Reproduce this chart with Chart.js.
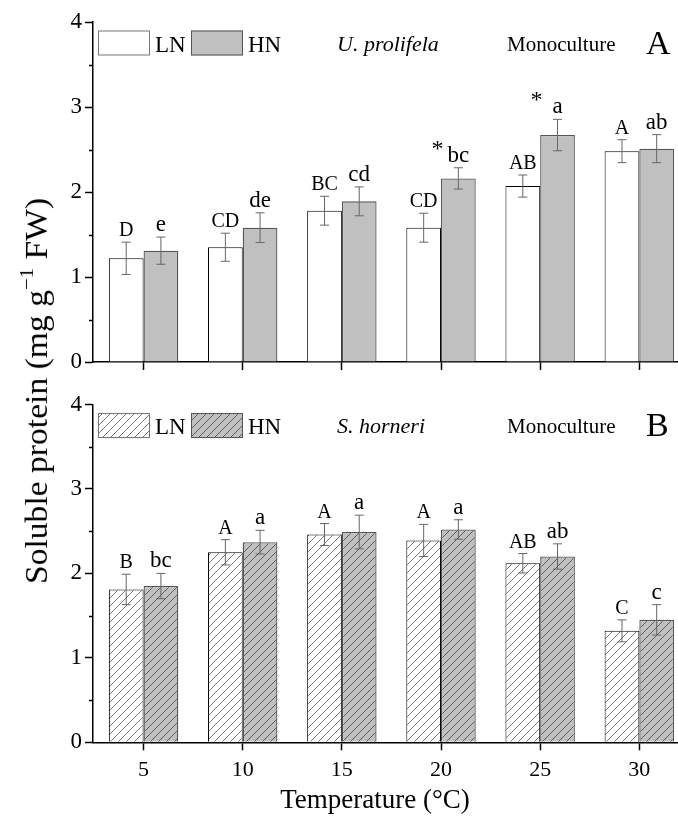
<!DOCTYPE html>
<html>
<head>
<meta charset="utf-8">
<script src="https://cdn.jsdelivr.net/npm/chart.js@4.4.1/dist/chart.umd.min.js"></script>
<style>
  body { margin: 0; background: #fff; }
  #wrap { position: relative; width: 678px; height: 818px; overflow: hidden; }
  canvas { position: absolute; left: 0; }
  #chartA { top: 0; }
  #chartB { top: 380px; }
  #ytitle {
    position: absolute; left: 36px; top: 391px;
    transform: translate(-50%, -50%) rotate(-90deg) scale(1.12, 1.05);
    white-space: nowrap;
    font: 30px 'Liberation Serif', serif;
    color: #000;
  }
  #ytitle sup { font-size: 0.62em; vertical-align: 0.7em; line-height: 0; }
</style>
</head>
<body>
<div id="wrap">
  <canvas id="chartA" width="678" height="380"></canvas>
  <canvas id="chartB" width="678" height="438"></canvas>
  <div id="ytitle">Soluble protein (mg g<sup>&minus;1</sup> FW)</div>
</div>
<script>
const temps = [5, 10, 15, 20, 25, 30];

// U. prolifela
const lnA = [1.22, 1.35, 1.78, 1.58, 2.07, 2.48];
const lnAErr = [0.19, 0.165, 0.17, 0.17, 0.13, 0.135];
const hnA = [1.31, 1.58, 1.89, 2.16, 2.67, 2.51];
const hnAErr = [0.16, 0.175, 0.17, 0.125, 0.185, 0.165];
const lnALetters = ['D', 'CD', 'BC', 'CD', 'AB', 'A'];
const hnALetters = ['e', 'de', 'cd', 'bc', 'a', 'ab'];
const hnAStars = ['', '', '', '*', '* ', ''];

// S. horneri
const lnB = [1.81, 2.25, 2.46, 2.39, 2.12, 1.32];
const lnBErr = [0.18, 0.15, 0.13, 0.19, 0.115, 0.13];
const hnB = [1.85, 2.37, 2.49, 2.52, 2.20, 1.45];
const hnBErr = [0.15, 0.14, 0.20, 0.115, 0.15, 0.18];
const lnBLetters = ['B', 'A', 'A', 'A', 'AB', 'C'];
const hnBLetters = ['bc', 'a', 'a', 'a', 'ab', 'c'];
const hnBStars = ['', '', '', '', '', ''];

const yTicks = [0, 1, 2, 3, 4];
const SERIF = "'Liberation Serif', 'Times New Roman', serif";

function hatch(bg, line) {
    const c = document.createElement('canvas');
    c.width = 8;
    c.height = 8;
    const g = c.getContext('2d');
    g.fillStyle = bg;
    g.fillRect(0, 0, 8, 8);
    g.strokeStyle = line;
    g.lineWidth = 0.8;
    g.beginPath();
    g.moveTo(0, 8); g.lineTo(8, 0);
    g.moveTo(-2, 2); g.lineTo(2, -2);
    g.moveTo(6, 10); g.lineTo(10, 6);
    g.stroke();
    return g.createPattern(c, 'repeat');
}

const toPoints = (vals) => temps.map((t, i) => ({ x: t, y: vals[i] }));

// error bars, letters above them, minor y ticks, legend and panel captions
const decorations = {
    id: 'decorations',
    afterDatasetsDraw(chart) {
        const { ctx, scales } = chart;
        const y = scales.y;
        ctx.save();
        chart.data.datasets.forEach((ds, di) => {
            const meta = chart.getDatasetMeta(di);
            meta.data.forEach((bar, i) => {
                const v = ds.data[i].y;
                const e = ds.errors[i];
                const top = y.getPixelForValue(v + e);
                const bot = y.getPixelForValue(v - e);
                ctx.strokeStyle = '#666';
                ctx.lineWidth = 1;
                ctx.beginPath();
                ctx.moveTo(bar.x, top); ctx.lineTo(bar.x, bot);
                ctx.moveTo(bar.x - 4.5, top); ctx.lineTo(bar.x + 4.5, top);
                ctx.moveTo(bar.x - 4.5, bot); ctx.lineTo(bar.x + 4.5, bot);
                ctx.stroke();

                ctx.fillStyle = '#000';
                ctx.textBaseline = 'alphabetic';
                ctx.textAlign = 'center';
                ctx.font = ds.letterSize + 'px ' + SERIF;
                const txt = ds.letters[i];
                ctx.fillText(txt, bar.x, top - 6);
                const star = ds.stars ? ds.stars[i] : '';
                if (star) {
                    const w = ctx.measureText(txt).width;
                    ctx.textAlign = 'right';
                    ctx.font = '24px ' + SERIF;
                    ctx.fillText(star, bar.x - w / 2 - 4, top - 12);
                }
            });
        });
        ctx.restore();
    },
    afterDraw(chart, args, opts) {
        const { ctx, chartArea, scales } = chart;
        const y = scales.y;
        ctx.save();
        // minor ticks
        ctx.strokeStyle = '#000';
        ctx.lineWidth = 1.5;
        ctx.beginPath();
        for (let v = 0.5; v < 4; v += 1) {
            const py = Math.round(y.getPixelForValue(v)) + 0.5;
            ctx.moveTo(chartArea.left - 4, py);
            ctx.lineTo(chartArea.left, py);
        }
        ctx.stroke();

        // legend
        const lx = chartArea.left + 5;
        const ly = chartArea.top + 8.5;
        chart.data.datasets.forEach((ds, di) => {
            const bx = lx + di * 93;
            ctx.fillStyle = ds.backgroundColor;
            ctx.fillRect(bx, ly, 52, 25);
            ctx.strokeStyle = ds.legendBorder;
            ctx.lineWidth = 1;
            ctx.strokeRect(bx + 0.5, ly + 0.5, 51, 24);
            ctx.fillStyle = '#000';
            ctx.font = '23px ' + SERIF;
            ctx.textAlign = 'left';
            ctx.textBaseline = 'alphabetic';
            ctx.fillText(ds.label, bx + 57, ly + 21);
        });

        ctx.font = 'italic 22px ' + SERIF;
        ctx.fillText(opts.species, 337, ly + 20);
        ctx.font = '21px ' + SERIF;
        ctx.fillText('Monoculture', 507, ly + 20);
        ctx.font = '34px ' + SERIF;
        ctx.fillText(opts.panel, 646, ly + 23);

        // axis title under the lower panel
        if (opts.xTitle) {
            ctx.font = '27px ' + SERIF;
            ctx.textAlign = 'center';
            ctx.fillText(opts.xTitle, (chartArea.left + chartArea.right) / 2 - 10, chart.height - 10);
        }
        ctx.restore();
    }
};

function makeChart(id, opts) {
    const c = document.getElementById(id);
    return new Chart(c.getContext('2d'), {
        type: 'bar',
        data: {
            datasets: [
                {
                    label: 'LN',
                    data: toPoints(opts.ln),
                    errors: opts.lnErr,
                    letters: opts.lnLetters,
                    letterSize: 20,
                    backgroundColor: opts.lnFill,
                    borderColor: '#000',
                    legendBorder: '#777',
                    borderWidth: 1,
                    categoryPercentage: 0.7,
                    barPercentage: 1.0
                },
                {
                    label: 'HN',
                    data: toPoints(opts.hn),
                    errors: opts.hnErr,
                    letters: opts.hnLetters,
                    stars: opts.hnStars,
                    letterSize: 23,
                    backgroundColor: opts.hnFill,
                    borderColor: '#555',
                    legendBorder: '#555',
                    borderWidth: 1.3,
                    categoryPercentage: 0.7,
                    barPercentage: 1.0
                }
            ]
        },
        options: {
            responsive: false,
            devicePixelRatio: 1,
            animation: false,
            layout: { padding: { top: opts.top, right: 1, left: 0, bottom: 0 } },
            plugins: {
                legend: { display: false },
                tooltip: { enabled: false },
                decorations: { species: opts.species, panel: opts.panel, xTitle: opts.xTitle }
            },
            scales: {
                x: {
                    type: 'linear',
                    min: 2.45,
                    max: 31.9,
                    offset: false,
                    afterBuildTicks: (s) => { s.ticks = temps.map(t => ({ value: t })); },
                    afterFit: (s) => { s.height = opts.xHeight; },
                    grid: { offset: false, drawOnChartArea: false, tickLength: 8, tickColor: '#000', tickWidth: 1.5 },
                    border: { display: true, color: '#000', width: 1.5 },
                    ticks: {
                        display: opts.showX,
                        color: '#000',
                        padding: 7,
                        maxRotation: 0,
                        font: { family: SERIF, size: 22 }
                    }
                },
                y: {
                    min: 0,
                    max: 4,
                    stacked: false,
                    afterBuildTicks: (s) => { s.ticks = yTicks.map(v => ({ value: v })); },
                    afterFit: (s) => { s.width = 93; },
                    grid: { drawOnChartArea: false, tickLength: 8, tickColor: '#000', tickWidth: 1.5 },
                    border: { display: true, color: '#000', width: 1.5 },
                    ticks: {
                        color: '#000',
                        padding: 3,
                        font: { family: SERIF, size: 23 }
                    }
                }
            }
        },
        plugins: [decorations]
    });
}

makeChart('chartA', {
    ln: lnA, lnErr: lnAErr, lnLetters: lnALetters,
    hn: hnA, hnErr: hnAErr, hnLetters: hnALetters, hnStars: hnAStars,
    lnFill: '#ffffff', hnFill: '#c0c0c0',
    species: 'U. prolifela', panel: 'A',
    top: 22, xHeight: 18, showX: false, xTitle: ''
});

makeChart('chartB', {
    ln: lnB, lnErr: lnBErr, lnLetters: lnBLetters,
    hn: hnB, hnErr: hnBErr, hnLetters: hnBLetters, hnStars: hnBStars,
    lnFill: hatch('#ffffff', '#555'), hnFill: hatch('#c0c0c0', '#444'),
    species: 'S. horneri', panel: 'B',
    top: 24.5, xHeight: 75.7, showX: true, xTitle: 'Temperature (°C)'
});
</script>
</body>
</html>
